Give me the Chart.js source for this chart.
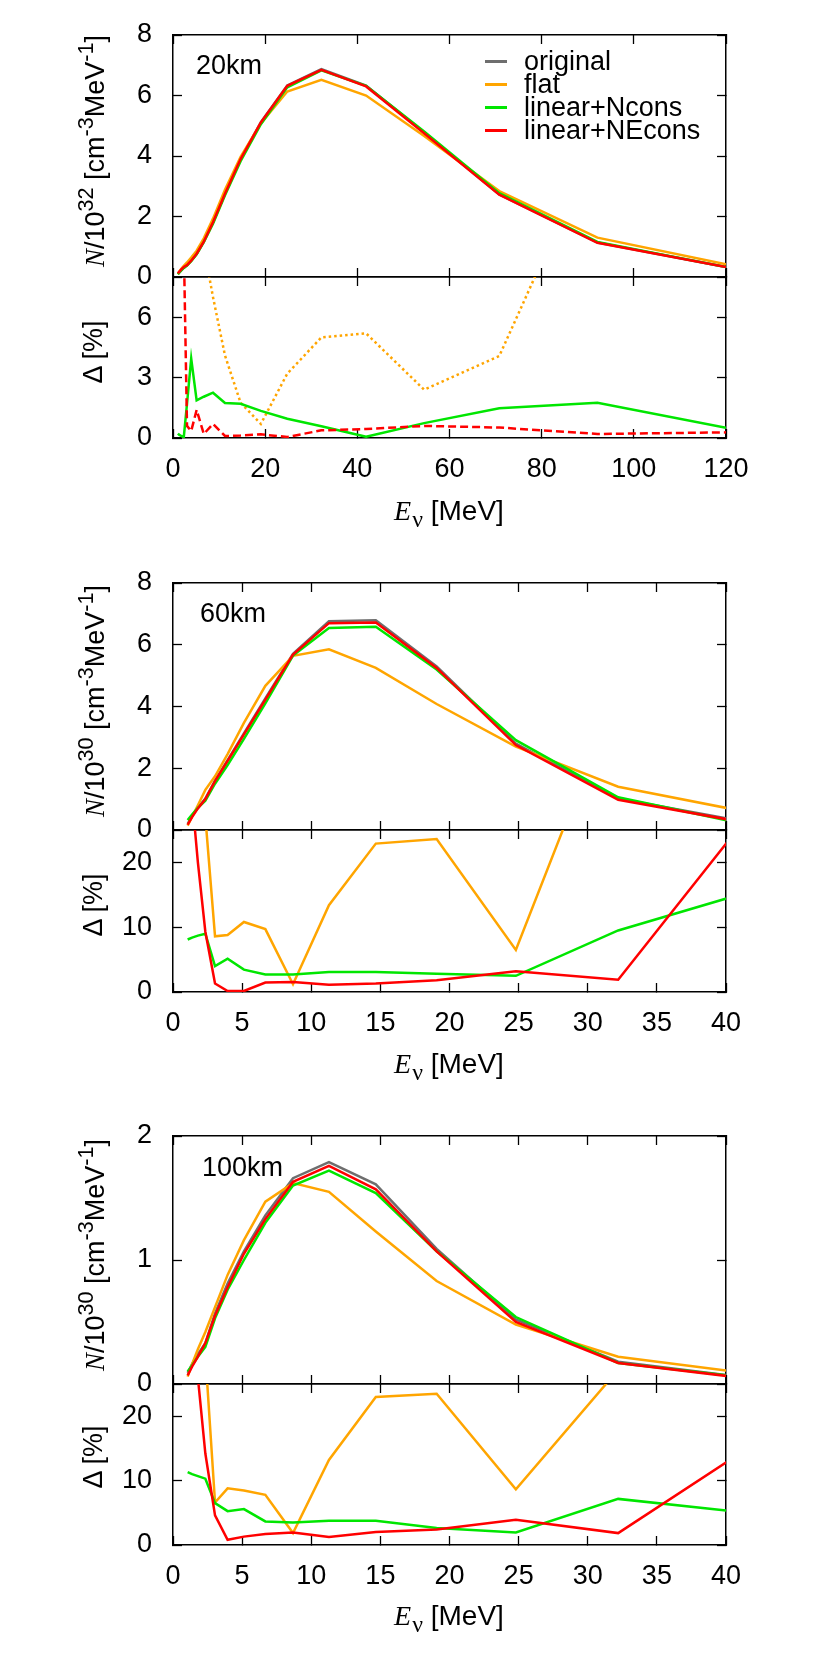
<!DOCTYPE html>
<html>
<head>
<meta charset="utf-8">
<script src="https://cdn.jsdelivr.net/npm/chart.js@4.4.0/dist/chart.umd.min.js"></script>
<style>
  body { margin:0; background:#fff; width:830px; height:1661px; position:relative; overflow:hidden; font-family:'Liberation Sans', Arial, sans-serif; color:#000; }
  canvas { position:absolute; left:0; }
  .lbl { position:absolute; font-size:27px; line-height:27px; white-space:nowrap; }
  .ytitle { position:absolute; font-size:27px; line-height:27px; white-space:nowrap; transform:translate(-50%,-50%) rotate(-90deg); }
  .ytitle sup { font-size:0.8em; vertical-align:0.5em; line-height:0; }
  .xtitle { position:absolute; font-size:28px; line-height:28px; white-space:nowrap; transform:translate(-50%,-50%); }
  .xtitle sub { font-size:0.85em; vertical-align:-0.3em; line-height:0; margin-left:1px; }
  .serif { font-family:'Liberation Serif', 'Times New Roman', serif; }
  .key { position:absolute; height:3px; width:22px; }
</style>
</head>
<body>
<canvas id="c20u"></canvas>
<canvas id="c20l"></canvas>
<canvas id="c60u"></canvas>
<canvas id="c60l"></canvas>
<canvas id="c100u"></canvas>
<canvas id="c100l"></canvas>

<div class="lbl" style="left:196px;top:52px">20km</div>
<div class="lbl" style="left:200px;top:600px">60km</div>
<div class="lbl" style="left:202px;top:1154px">100km</div>

<div class="key" style="left:485px;top:60px;background:#6e6e6e"></div>
<div class="lbl" style="left:524px;top:48px">original</div>
<div class="key" style="left:485px;top:83px;background:#ffa500"></div>
<div class="lbl" style="left:524px;top:71px">flat</div>
<div class="key" style="left:485px;top:106px;background:#00e600"></div>
<div class="lbl" style="left:524px;top:94px">linear+Ncons</div>
<div class="key" style="left:485px;top:129px;background:#ff0000"></div>
<div class="lbl" style="left:524px;top:117px">linear+NEcons</div>

<div class="ytitle" style="left:95px;top:151px"><i class="serif">N</i>/10<sup>32</sup> [cm<sup>-3</sup>MeV<sup>-1</sup>]</div>
<div class="ytitle" style="left:93px;top:352px">Δ [%]</div>
<div class="xtitle" style="left:449px;top:511px"><i class="serif">E</i><sub class="serif">ν</sub> [MeV]</div>

<div class="ytitle" style="left:95px;top:701px"><i class="serif">N</i>/10<sup>30</sup> [cm<sup>-3</sup>MeV<sup>-1</sup>]</div>
<div class="ytitle" style="left:93px;top:905px">Δ [%]</div>
<div class="xtitle" style="left:449px;top:1064px"><i class="serif">E</i><sub class="serif">ν</sub> [MeV]</div>

<div class="ytitle" style="left:95px;top:1255px"><i class="serif">N</i>/10<sup>30</sup> [cm<sup>-3</sup>MeV<sup>-1</sup>]</div>
<div class="ytitle" style="left:93px;top:1457px">Δ [%]</div>
<div class="xtitle" style="left:449px;top:1616px"><i class="serif">E</i><sub class="serif">ν</sub> [MeV]</div>

<script>
// neutrino energy grid [MeV]
const energy = [1.06, 1.38, 1.8, 2.34, 3.04, 3.95, 5.13, 6.68, 8.68, 11.28, 14.67, 19.07, 24.8, 32.2, 41.9, 54.5, 70.8, 92.1, 120];

// 20 km : N / 1e32
const orig20   = [0.09, 0.15, 0.22, 0.30, 0.39, 0.54, 0.76, 1.17, 1.80, 2.75, 3.90, 5.12, 6.33, 6.87, 6.33, 4.78, 2.73, 1.14, 0.33];
const flat20   = [0.10, 0.18, 0.27, 0.37, 0.48, 0.64, 0.87, 1.28, 1.93, 2.88, 3.97, 5.08, 6.13, 6.52, 6.00, 4.66, 2.84, 1.30, 0.42];
const ncons20  = [0.09, 0.15, 0.22, 0.30, 0.38, 0.52, 0.75, 1.15, 1.76, 2.70, 3.83, 5.05, 6.27, 6.83, 6.32, 4.81, 2.77, 1.16, 0.33];
const necons20 = [0.12, 0.18, 0.25, 0.33, 0.39, 0.54, 0.77, 1.17, 1.81, 2.75, 3.90, 5.11, 6.32, 6.85, 6.30, 4.75, 2.72, 1.13, 0.33];
// 20 km : deviation [%]
const dFlat20   = [40, 35, 30, 25, 20, 15, 12, 9.5, 7.0, 4.1, 1.75, 0.7, 3.2, 5.0, 5.2, 2.4, 4.07, 14.9, 27];
const dNcons20  = [0.22, 0.15, 0.10, 0.04, 1.7, 3.95, 1.87, 2.05, 2.25, 1.74, 1.70, 1.35, 0.96, 0.58, 0.06, 0.74, 1.48, 1.75, 0.51];
const dNEcons20 = [30, 20, 14, 9.6, 0.6, 0.35, 1.40, 0.20, 0.70, 0.10, 0.12, 0.18, 0.05, 0.38, 0.45, 0.60, 0.52, 0.20, 0.28];

// 60 km : N / 1e30
const orig60   = [0.20, 0.45, 0.72, 1.02, 1.60, 2.26, 3.13, 4.26, 5.71, 6.76, 6.79, 5.30, 2.80, 1.02, 0.22];
const flat60   = [0.14, 0.43, 0.80, 1.30, 1.74, 2.46, 3.47, 4.67, 5.64, 5.85, 5.25, 4.08, 2.70, 1.40, 0.55];
const ncons60  = [0.32, 0.50, 0.72, 0.95, 1.50, 2.10, 2.95, 4.10, 5.65, 6.54, 6.58, 5.20, 2.91, 1.06, 0.14];
const necons60 = [0.17, 0.42, 0.70, 1.00, 1.58, 2.24, 3.10, 4.22, 5.68, 6.70, 6.72, 5.25, 2.75, 0.98, 0.20];
const dFlat60   = [30, 40, 35, 27, 8.6, 8.8, 10.8, 9.7, 1.2, 13.4, 22.9, 23.6, 6.5, 46.8, 60];
const dNcons60  = [8.1, 8.4, 8.7, 9.0, 4.0, 5.15, 3.45, 2.7, 2.7, 3.1, 3.1, 2.8, 2.5, 9.5, 15.6];
const dNEcons60 = [100, 30, 20, 9.3, 1.3, 0.15, 0.15, 1.45, 1.55, 1.13, 1.3, 1.8, 3.2, 1.9, 28];

// 100 km : N / 1e30
const orig100   = [0.09, 0.16, 0.24, 0.33, 0.57, 0.81, 1.07, 1.36, 1.66, 1.79, 1.61, 1.09, 0.52, 0.18, 0.046];
const flat100   = [0.06, 0.16, 0.28, 0.42, 0.62, 0.88, 1.16, 1.47, 1.62, 1.55, 1.23, 0.83, 0.48, 0.22, 0.081];
const ncons100  = [0.10, 0.15, 0.22, 0.30, 0.53, 0.76, 1.00, 1.30, 1.60, 1.72, 1.54, 1.07, 0.54, 0.17, 0.046];
const necons100 = [0.07, 0.14, 0.22, 0.33, 0.55, 0.78, 1.05, 1.33, 1.63, 1.76, 1.57, 1.07, 0.50, 0.17, 0.04];
const dFlat100   = [40, 35, 32, 29.6, 6.6, 8.8, 8.45, 7.8, 1.85, 13.2, 23.0, 23.5, 8.66, 27.2, 50];
const dNcons100  = [11.3, 11.0, 10.7, 10.3, 6.5, 5.26, 5.57, 3.66, 3.5, 3.76, 3.76, 2.63, 1.96, 7.16, 4.9];
const dNEcons100 = [100, 60, 26, 14.2, 4.6, 0.8, 1.3, 1.7, 1.95, 1.24, 2.0, 2.4, 3.9, 1.85, 15.5];

// tick labels
const xTicks20 = [0, 20, 40, 60, 80, 100, 120];
const xTicks40 = [0, 5, 10, 15, 20, 25, 30, 35, 40];
const yTicksN8 = [0, 2, 4, 6, 8];
const yTicksN2 = [0, 1, 2];
const yTicksD8 = [0, 3, 6];
const yTicksD25 = [0, 10, 20];

const GRAY = '#6e6e6e', ORANGE = '#ffa500', GREEN = '#00e600', RED = '#ff0000';
const FRAME_L = 173, FRAME_R = 726;
const tickFont = { family: "'Liberation Sans', Arial, sans-serif", size: 27 };

function line(vals, color, order, dash) {
    return {
        data: vals.map((v, i) => ({ x: energy[i], y: v })),
        borderColor: color,
        borderWidth: 2.5,
        borderDash: dash || [],
        pointRadius: 0,
        tension: 0,
        fill: false,
        order: order
    };
}

function fixedTicks(vals) {
    return s => { s.ticks = vals.map(v => ({ value: v })); };
}

function axis(pos, min, max, ticks, showLabels, size, pad) {
    const horiz = pos === 'bottom' || pos === 'top';
    return {
        type: 'linear',
        axis: horiz ? 'x' : 'y',
        position: pos,
        min: min,
        max: max,
        afterBuildTicks: fixedTicks(ticks),
        grid: { drawOnChartArea: false, drawTicks: true, tickLength: -9, tickColor: '#000', tickWidth: 1.3 },
        border: { display: true, color: '#000', width: 1.5 },
        ticks: { display: showLabels, font: tickFont, color: '#000', padding: pad, autoSkip: false, maxRotation: 0 },
        afterFit: s => {
            // fixed box sizes so the plot frame lands exactly where wanted
            if (horiz) { s.height = size; s.paddingLeft = 0; s.paddingRight = 0; }
            else { s.width = size; s.paddingTop = 0; s.paddingBottom = 0; }
        }
    };
}

function panel(id, frameTop, frameBottom, showX, xMax, xTicks, yMax, yTicks, datasets) {
    const padTop = 20;
    const padBottom = showX ? 80 : 20;
    const cv = document.getElementById(id);
    cv.width = 830;
    cv.height = frameBottom - frameTop + padTop + padBottom;
    cv.style.top = (frameTop - padTop) + 'px';
    new Chart(cv, {
        type: 'line',
        data: { datasets: datasets },
        options: {
            responsive: false,
            animation: false,
            devicePixelRatio: 1,
            layout: { padding: { top: padTop, bottom: showX ? 0 : padBottom, left: 0, right: 830 - FRAME_R } },
            plugins: { legend: { display: false }, tooltip: { enabled: false } },
            scales: {
                x: axis('bottom', 0, xMax, xTicks, showX, showX ? padBottom : 0, 24),
                xTop: axis('top', 0, xMax, xTicks, false, 0, 0),
                y: axis('left', 0, yMax, yTicks, true, FRAME_L, 30),
                yRight: axis('right', 0, yMax, yTicks, false, 0, 0)
            }
        }
    });
}

panel('c20u', 35, 277, false, 120, xTicks20, 8, yTicksN8, [
    line(orig20, GRAY, 3), line(flat20, ORANGE, 2), line(ncons20, GREEN, 1), line(necons20, RED, 0)
]);
panel('c20l', 277, 438, true, 120, xTicks20, 8, yTicksD8, [
    line(dFlat20, ORANGE, 2, [2.5, 3]), line(dNcons20, GREEN, 1), line(dNEcons20, RED, 0, [8, 4])
]);
panel('c60u', 583, 830, false, 40, xTicks40, 8, yTicksN8, [
    line(orig60, GRAY, 3), line(flat60, ORANGE, 2), line(ncons60, GREEN, 1), line(necons60, RED, 0)
]);
panel('c60l', 830, 992, true, 40, xTicks40, 25, yTicksD25, [
    line(dFlat60, ORANGE, 2), line(dNcons60, GREEN, 1), line(dNEcons60, RED, 0)
]);
panel('c100u', 1136, 1384, false, 40, xTicks40, 2, yTicksN2, [
    line(orig100, GRAY, 3), line(flat100, ORANGE, 2), line(ncons100, GREEN, 1), line(necons100, RED, 0)
]);
panel('c100l', 1384, 1545, true, 40, xTicks40, 25, yTicksD25, [
    line(dFlat100, ORANGE, 2), line(dNcons100, GREEN, 1), line(dNEcons100, RED, 0)
]);
</script>
</body>
</html>
